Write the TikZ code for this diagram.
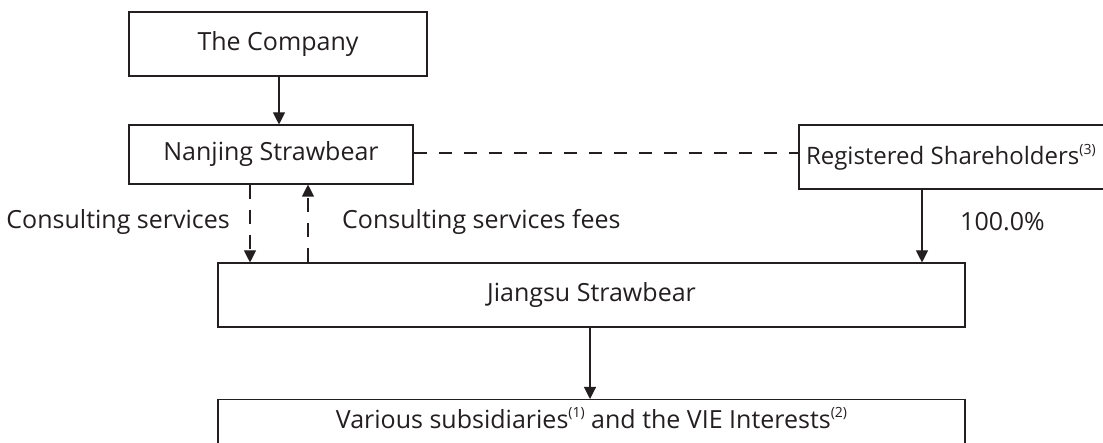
\documentclass[tikz,border=0pt]{standalone}
\usepackage{fontspec}
\setmainfont{Open Sans}
\usetikzlibrary{arrows.meta,calc}
\definecolor{ink}{HTML}{231F20}
\newcommand\supnote[1]{\raisebox{0.8ex}{\fontsize{14}{14}\selectfont(#1)}}
\tikzset{
  box/.style={draw=ink, line width=1.1pt, inner sep=0pt, text=ink, font=\fontsize{25}{30}\selectfont},
  lbl/.style={text=ink, inner sep=0pt, font=\fontsize{25}{30}\selectfont},
  conn/.style={draw=ink, line width=1.1pt, -{Triangle[length=12pt,width=12pt]}},
  dconn/.style={conn, dash pattern=on 14pt off 11pt},
}
\begin{document}
\begin{tikzpicture}[x=1pt,y=-1pt]
\useasboundingbox (0,0) rectangle (1103,443);
\node[box, minimum width=298pt, minimum height=64pt] (co) at (278,44) {The Company};
\node[box, minimum width=284pt, minimum height=59pt] (nj) at (271,154.5) {Nanjing Strawbear};
\node[box, minimum height=64pt, inner xsep=7pt, font=\fontsize{24}{28}\selectfont] (rs) at (964,157) {\makebox[316pt][l]{Registered Shareholders\supnote{3}}};
\node[box, minimum width=747pt, minimum height=64pt] (js) at (591.5,295) {Jiangsu Strawbear};
\node[box, minimum width=747pt, anchor=north, inner ysep=6pt, text height=23pt, text depth=40pt] (vs) at (591.5,399) {Various subsidiaries\supnote{1} and the VIE Interests\supnote{2}};
\draw[conn] (co.south -| 279,0) -- (nj.north -| 279,0);
\draw[ink, line width=1.1pt, dash pattern=on 13pt off 12pt] (nj.east |- 0,153) -- (rs.west |- 0,153);
\draw[dconn] (nj.south -| 250,0) -- (js.north -| 250,0);
\draw[dconn] (js.north -| 308,0) -- (nj.south -| 308,0);
\draw[conn] (rs.south -| 922,0) -- (js.north -| 922,0);
\draw[conn] (js.south -| 590,0) -- (vs.north -| 590,0);
\node[lbl, anchor=east] (l1) at (230,222) {Consulting services};
\node[lbl, anchor=west] (l2) at (342,222) {Consulting services fees};
\node[lbl, anchor=west] (l3) at (960,222) {100.0\%};
\end{tikzpicture}
\end{document}
